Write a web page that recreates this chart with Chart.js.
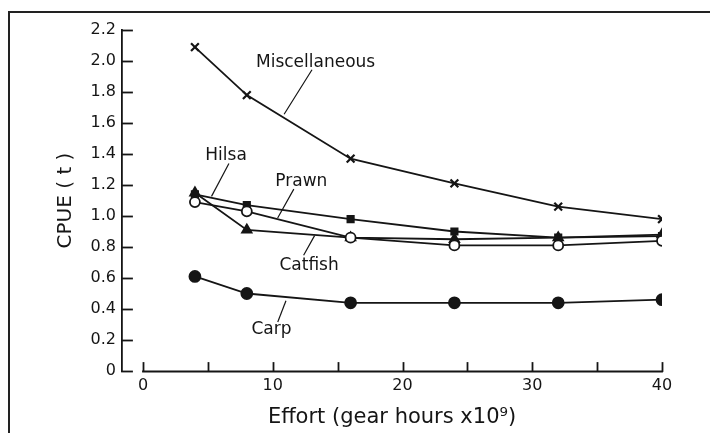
<!DOCTYPE html>
<html>
<head>
<meta charset="utf-8">
<script src="https://cdn.jsdelivr.net/npm/chart.js@4.4.1/dist/chart.umd.min.js"></script>
<style>
    html, body { margin: 0; padding: 0; background: #fff; }
    #wrap { width: 710px; height: 433px; }
</style>
</head>
<body>
<div id="wrap"><canvas id="cpueChart" width="710" height="433"></canvas></div>
<script>
// effort in gear hours x10^9
const effort = [4, 8, 16, 24, 32, 40];

// CPUE (t) per group
const miscellaneous = [2.09, 1.78, 1.37, 1.21, 1.06, 0.98];
const hilsa = [1.14, 1.07, 0.98, 0.90, 0.86, 0.87];
const prawn = [1.09, 1.03, 0.86, 0.81, 0.81, 0.84];
const catfish = [1.15, 0.91, 0.86, 0.85, 0.86, 0.88];
const carp = [0.61, 0.50, 0.44, 0.44, 0.44, 0.46];

const xTicks = [0, 5, 10, 15, 20, 25, 30, 35, 40];
const yTicks = [0, 0.2, 0.4, 0.6, 0.8, 1.0, 1.2, 1.4, 1.6, 1.8, 2.0, 2.2];

// curve labels: text, label centre, pointer start, pointer end (data units)
const labelText = ['Miscellaneous', 'Hilsa', 'Prawn', 'Catfish', 'Carp'];
const labelPos = [[13.3, 1.99], [6.4, 1.39], [12.2, 1.22], [12.8, 0.68], [9.9, 0.27]];
const pointerFrom = [[13.0, 1.94], [6.6, 1.335], [11.6, 1.17], [12.4, 0.75], [10.4, 0.32]];
const pointerTo = [[10.9, 1.66], [5.3, 1.13], [10.4, 0.99], [13.2, 0.87], [11.0, 0.45]];

const INK = '#151515';
const FONT = "'DejaVu Sans', sans-serif";

function pts(values) {
    return effort.map((x, i) => ({ x: x, y: values[i] }));
}

function series(label, values, style, radius, fill) {
    return {
        label: label,
        data: pts(values),
        borderColor: INK,
        borderWidth: 1.8,
        pointStyle: style,
        pointRadius: radius,
        pointBorderWidth: style === 'crossRot' ? 2.2 : 1.8,
        pointBorderColor: INK,
        pointBackgroundColor: fill,
        tension: 0,
        fill: false
    };
}

const decorations = {
    id: 'decorations',
    beforeDraw(chart) {
        const ctx = chart.ctx;
        ctx.save();
        ctx.fillStyle = '#fff';
        ctx.fillRect(0, 0, chart.width, chart.height);
        // scanned page frame
        ctx.strokeStyle = '#222';
        ctx.lineWidth = 2;
        ctx.beginPath();
        ctx.moveTo(9, chart.height);
        ctx.lineTo(9, 12);
        ctx.lineTo(chart.width, 12);
        ctx.stroke();
        ctx.restore();
    },
    afterDraw(chart) {
        const ctx = chart.ctx;
        const xs = chart.scales.x;
        const ys = chart.scales.y;
        const left = chart.chartArea.left;
        const base = ys.getPixelForValue(0);
        ctx.save();
        ctx.strokeStyle = INK;
        ctx.lineWidth = 1.8;
        ctx.lineCap = 'square';
        // y ticks pointing inward
        ys.ticks.forEach(t => {
            const y = Math.round(ys.getPixelForValue(t.value)) + 0.5;
            ctx.beginPath();
            ctx.moveTo(left, y);
            ctx.lineTo(left + 10, y);
            ctx.stroke();
        });
        // x axis, starting at 0
        ctx.beginPath();
        ctx.moveTo(xs.getPixelForValue(0), base + 0.5);
        ctx.lineTo(xs.getPixelForValue(40), base + 0.5);
        ctx.stroke();
        xs.ticks.forEach(t => {
            const x = Math.round(xs.getPixelForValue(t.value)) + 0.5;
            ctx.beginPath();
            ctx.moveTo(x, base);
            ctx.lineTo(x, base - 8);
            ctx.stroke();
        });
        // curve labels and their pointers
        ctx.lineWidth = 1.2;
        ctx.fillStyle = INK;
        ctx.font = '17px ' + FONT;
        ctx.textAlign = 'center';
        ctx.textBaseline = 'middle';
        labelText.forEach((txt, i) => {
            ctx.fillText(txt, xs.getPixelForValue(labelPos[i][0]), ys.getPixelForValue(labelPos[i][1]));
            ctx.beginPath();
            ctx.moveTo(xs.getPixelForValue(pointerFrom[i][0]), ys.getPixelForValue(pointerFrom[i][1]));
            ctx.lineTo(xs.getPixelForValue(pointerTo[i][0]), ys.getPixelForValue(pointerTo[i][1]));
            ctx.stroke();
        });
        ctx.restore();
    }
};

new Chart(document.getElementById('cpueChart').getContext('2d'), {
    type: 'line',
    data: {
        datasets: [
            series('Carp', carp, 'circle', 5.5, INK),
            series('Prawn', prawn, 'circle', 5, '#fff'),
            series('Miscellaneous', miscellaneous, 'crossRot', 5.5, INK),
            series('Catfish', catfish, 'triangle', 5.5, INK),
            series('Hilsa', hilsa, 'rect', 4.5, INK)
        ]
    },
    options: {
        responsive: false,
        animation: false,
        devicePixelRatio: 1,
        layout: { padding: { top: 30, right: 48, left: 0, bottom: 0 } },
        plugins: {
            legend: { display: false },
            tooltip: { enabled: false }
        },
        scales: {
            x: {
                type: 'linear',
                min: -1.62,
                max: 40,
                afterBuildTicks: s => { s.ticks = xTicks.map(v => ({ value: v })); },
                afterFit: s => { s.height = 62; },
                grid: { display: false, drawTicks: false },
                border: { display: false },
                ticks: {
                    padding: 5,
                    color: INK,
                    font: { family: FONT, size: 16 },
                    maxRotation: 0,
                    autoSkip: false,
                    callback: v => (v % 10 === 0 ? String(v) : '')
                },
                title: {
                    display: true,
                    text: 'Effort (gear hours x10⁹)',
                    color: INK,
                    font: { family: FONT, size: 21 },
                    padding: { top: 0, bottom: 3 }
                }
            },
            y: {
                min: 0,
                max: 2.2,
                afterBuildTicks: s => { s.ticks = yTicks.map(v => ({ value: v })); },
                afterFit: s => { s.width = 122; },
                grid: { display: false, drawTicks: false },
                border: { display: true, color: INK, width: 1.8 },
                ticks: {
                    padding: 6,
                    color: INK,
                    font: { family: FONT, size: 16 },
                    autoSkip: false,
                    callback: v => (v === 0 ? '0' : v.toFixed(1))
                },
                title: {
                    display: true,
                    text: 'CPUE ( t )',
                    color: INK,
                    font: { family: FONT, size: 20 },
                    padding: { top: 54, bottom: 0 }
                }
            }
        }
    },
    plugins: [decorations]
});
</script>
</body>
</html>
